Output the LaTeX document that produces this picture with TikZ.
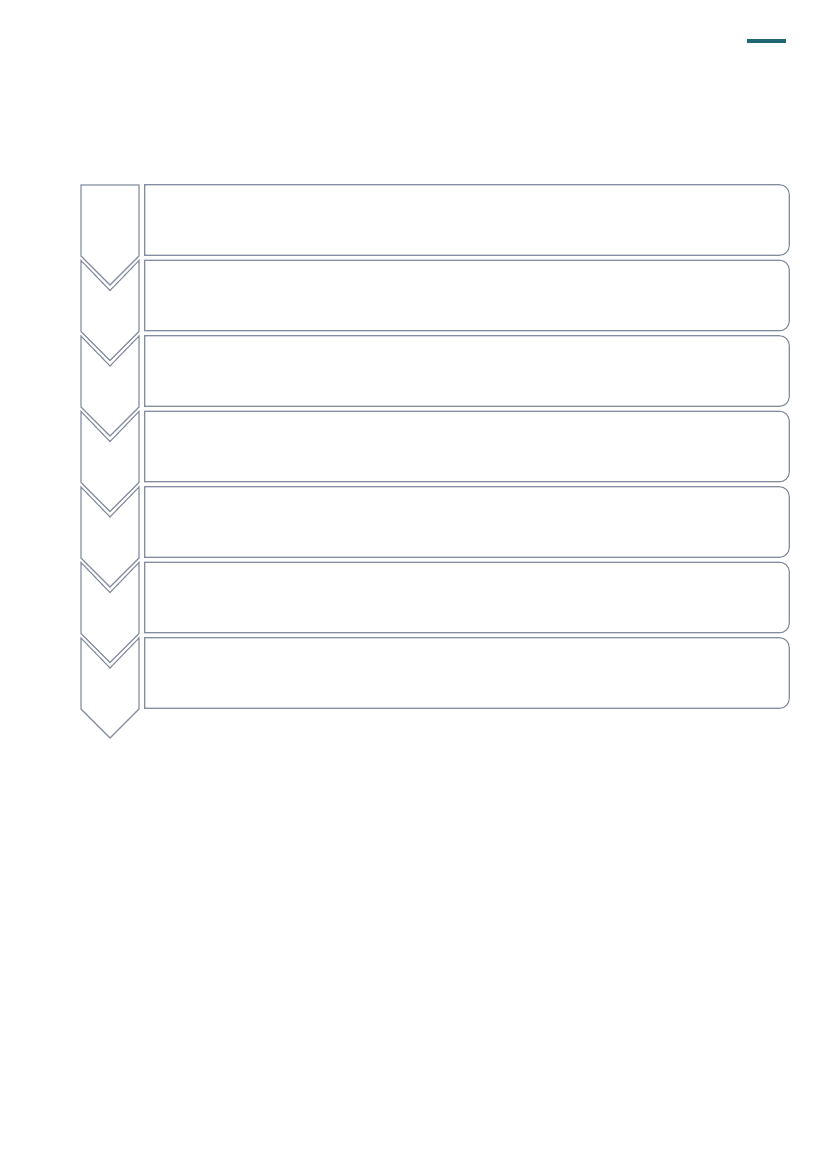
\documentclass[tikz,border=0pt]{standalone}
\usetikzlibrary{positioning}
\definecolor{edgegray}{RGB}{132,141,160}
\definecolor{barteal}{RGB}{31,104,115}
\begin{document}
\begin{tikzpicture}
    [
    x=0.72pt, y=-0.72pt,
    chevron/.style={draw=edgegray,line width=0.8pt,line join=miter},
    stepbox/.style={rectangle,inner sep=0pt,minimum width=644*0.72pt,minimum height=70*0.72pt},
    boxline/.style={draw=edgegray,line width=0.8pt}
    ]
    \useasboundingbox (0,0) rectangle (827,1169);
    \draw [barteal,line width=2.2pt] (747,41) -- (786,41);
    % boxes
    \foreach \i in {1,...,7}
      \node (box\i) at (467,{220+75.5*(\i-1)}) [stepbox] {};
    \foreach \i in {1,...,7}
      \draw [boxline] (box\i.south west) -- (box\i.north west) [rounded corners=7pt] -- (box\i.north east) -- (box\i.south east) [sharp corners] -- cycle;
    % chevrons
    \foreach \i in {1,...,7}{
      \pgfmathsetmacro\top{185+75.5*(\i-1)}
      \pgfmathsetmacro\notch{\i==1 ? 0 : 30}
      \draw [chevron] (81,\top) -- (81,{\top+71}) -- (110,{\top+100}) -- (139,{\top+71}) -- (139,\top) -- (110,{\top+\notch}) -- cycle;
    }
  \end{tikzpicture}
\end{document}
